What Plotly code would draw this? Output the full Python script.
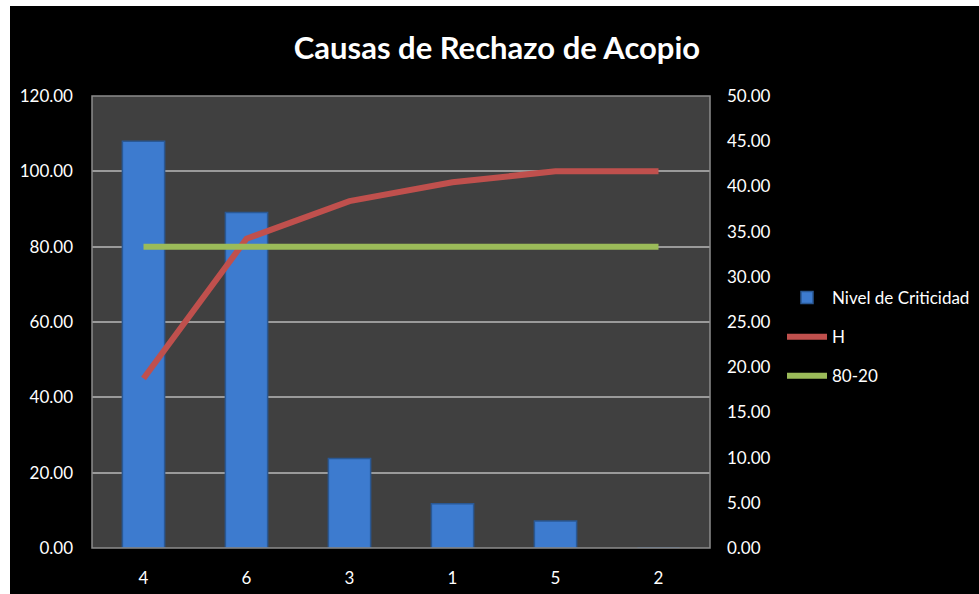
import plotly.graph_objects as go

categories = ["4", "6", "3", "1", "5", "2"]
nivel_criticidad = [45.0, 37.1, 9.9, 4.9, 3.0, 0.0]
h_acumulado = [45.0, 82.1, 92.1, 97.1, 100.0, 100.0]
linea_80_20 = [80, 80, 80, 80, 80, 80]

left_ticks = [0, 20, 40, 60, 80, 100, 120]
right_ticks = [0, 5, 10, 15, 20, 25, 30, 35, 40, 45, 50]

FONT = "Lato"
W, H = 979, 594
L, R, T, B = 92, 269, 96, 46
pw, ph = W - L - R, H - T - B


def px_x(x):
    return (x - L) / pw


def px_y(y):
    return (H - B - y) / ph


fig = go.Figure()

fig.add_trace(go.Bar(
    x=categories, y=nivel_criticidad, name="Nivel de Criticidad",
    yaxis="y", legendgroup="a",
    marker=dict(color="#3d7bcf", line=dict(color="#2a5894", width=1.5)),
    width=0.41,
))
fig.add_trace(go.Scatter(
    x=categories, y=h_acumulado, name="H", mode="lines",
    yaxis="y2", legendgroup="b",
    line=dict(color="#c0504d", width=6),
))
fig.add_trace(go.Scatter(
    x=categories, y=linea_80_20, name="80-20", mode="lines",
    yaxis="y2", legendgroup="c",
    line=dict(color="#9bbb59", width=6),
))

tickfont = dict(family=FONT, size=17, color="white")

fig.update_layout(
    width=W, height=H,
    margin=dict(l=L, r=R, t=T, b=B, autoexpand=False),
    paper_bgcolor="black",
    plot_bgcolor="#404040",
    font=dict(family=FONT, color="white"),
    title=dict(text="<b>Causas de Rechazo de Acopio</b>",
               x=497 / W, xanchor="center", y=1 - 48 / H, yanchor="middle",
               font=dict(family=FONT, size=31, color="white")),
    xaxis=dict(type="category", showgrid=False, tickfont=tickfont,
               ticklabelstandoff=18, showline=False, zeroline=False),
    yaxis=dict(side="right", range=[0, 50], tickvals=right_ticks,
               tickformat=".2f", showgrid=False, zeroline=False,
               tickfont=tickfont, ticklabelstandoff=16),
    yaxis2=dict(side="left", overlaying="y", range=[0, 120],
                tickvals=left_ticks, tickformat=".2f", showgrid=True,
                gridcolor="#9a9a9a", gridwidth=1.5, zeroline=False,
                tickfont=tickfont, ticklabelstandoff=18),
    legend=dict(x=px_x(782), xanchor="left", y=px_y(280), yanchor="top",
                font=dict(family=FONT, size=17, color="white"),
                bgcolor="rgba(0,0,0,0)", tracegroupgap=14,
                itemwidth=40),
    showlegend=True,
    shapes=[
        dict(type="rect", xref="paper", yref="paper", x0=0, x1=1, y0=0, y1=1,
             line=dict(color="#8c8c8c", width=1.5), layer="above"),
        dict(type="rect", xref="paper", yref="paper",
             x0=px_x(-20), x1=px_x(10), y0=px_y(H + 20), y1=px_y(-20),
             fillcolor="white", line=dict(width=0), layer="above"),
        dict(type="rect", xref="paper", yref="paper",
             x0=px_x(-20), x1=px_x(W + 20), y0=px_y(6), y1=px_y(-20),
             fillcolor="white", line=dict(width=0), layer="above"),
    ],
)

fig.write_html(
    "out.html",
    config={"displayModeBar": False},
    post_script="document.body.style.margin='0';document.body.style.padding='0';",
)
